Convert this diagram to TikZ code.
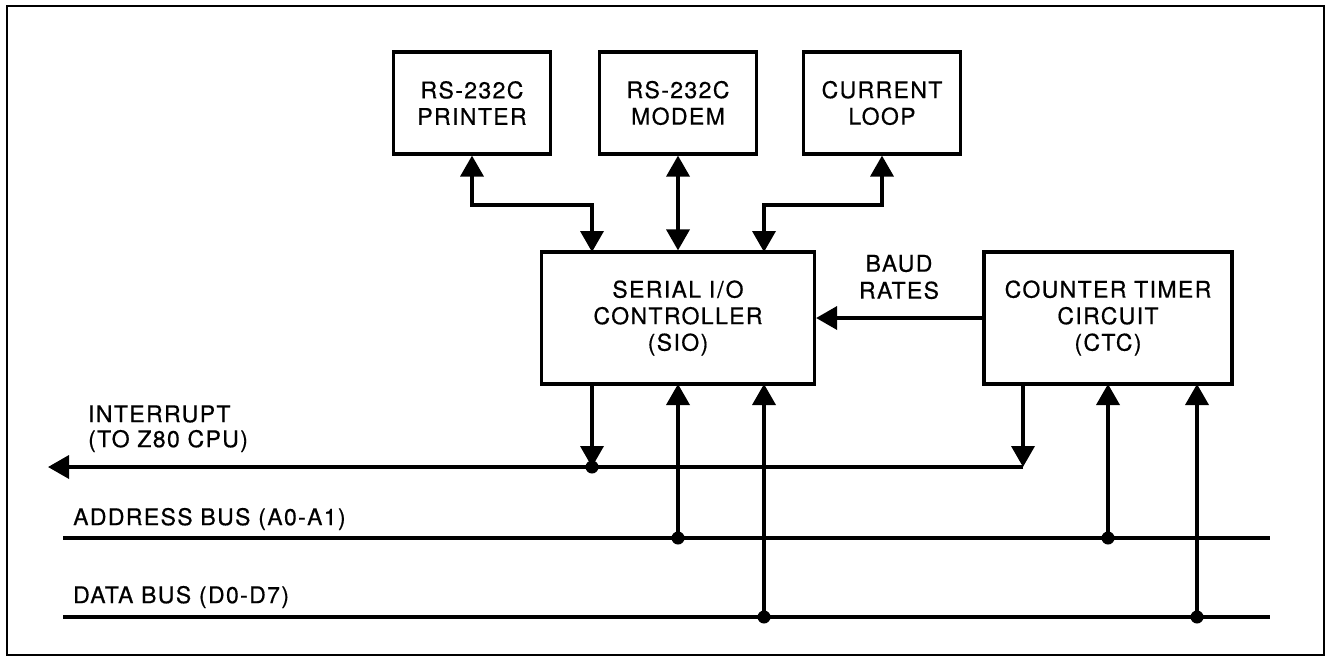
\documentclass[tikz,border=0pt]{standalone}
\usepackage{fontspec}
\setmainfont{TeX Gyre Heros}[LetterSpace=6,FakeBold=0.6]
\usetikzlibrary{arrows.meta}
\tikzset{
  blk/.style={draw, line width=3.2pt, align=center, inner sep=0pt,
    font=\fontsize{23}{26.5}\selectfont},
  lbl/.style={inner sep=0pt, font=\fontsize{23}{27}\selectfont},
  wire/.style={line width=3.6pt},
  bus/.style={line width=4pt},
  tip/.style={-{Triangle[width=23pt,length=21pt]}},
  bitip/.style={{Triangle[width=23pt,length=21pt]}-{Triangle[width=23pt,length=21pt]}},
  dot/.style={circle, fill, inner sep=0pt, minimum size=13pt}
}
\begin{document}
\begin{tikzpicture}[x=1pt,y=-1pt]
\useasboundingbox (0,0) rectangle (1330,658);
\draw[line width=2.5pt] (7,6) rectangle (1324,655);

% boxes
\node[blk, minimum width=157pt, minimum height=102pt] (prn) at (472,103) {RS-232C\\PRINTER};
\node[blk, minimum width=157pt, minimum height=102pt] (mdm) at (678,103) {RS-232C\\MODEM};
\node[blk, minimum width=157pt, minimum height=102pt] (cl) at (882,103) {CURRENT\\LOOP};
\node[blk, minimum width=273pt, minimum height=132pt] (sio) at (678,318) {SERIAL I\kern2pt/\kern2pt O\\CONTROLLER\\(SIO)};
\node[blk, minimum width=248pt, minimum height=132pt] (ctc) at (1108,318) {COUNTER TIMER\\CIRCUIT\\(CTC)};

% anchor coordinates
\coordinate (s1) at (592,252);
\coordinate (s3) at (764,252);
\coordinate (j1) at (472,205);
\coordinate (j3) at (882,205);
\coordinate (b1) at (592,384);
\coordinate (b2) at (678,384);
\coordinate (b3) at (764,384);
\coordinate (c1) at (1023,384);
\coordinate (c2) at (1108,384);
\coordinate (c3) at (1197,384);
\coordinate (i1) at (592,467);
\coordinate (ic) at (1023,467);
\coordinate (iend) at (48,467);
\coordinate (a1) at (678,538);
\coordinate (a2) at (1108,538);
\coordinate (d1) at (764,617);
\coordinate (d2) at (1197,617);
\coordinate (aL) at (63,538);
\coordinate (aR) at (1270,538);
\coordinate (dL) at (63,617);
\coordinate (dR) at (1270,617);

% top connectors
\draw[wire, bitip] (prn.south) -- (j1) -| (s1);
\draw[wire, bitip] (mdm.south) -- (sio.north);
\draw[wire, bitip] (cl.south) -- (j3) -| (s3);

% baud rates
\draw[wire, tip] (ctc.west) -- (sio.east);
\node[lbl, align=center] (baud) at (899,277) {BAUD\\RATES};

% buses
\draw[bus] (aL) -- (aR);
\draw[bus] (dL) -- (dR);
\draw[wire, tip] (ic) -- (iend);

% vertical links
\draw[wire, tip] (b1) -- (i1);
\draw[wire, tip] (c1) -- (ic);
\draw[wire, tip] (a1) -- (b2);
\draw[wire, tip] (d1) -- (b3);
\draw[wire, tip] (a2) -- (c2);
\draw[wire, tip] (d2) -- (c3);

\node[dot] (n1) at (i1) {};
\node[dot] (n2) at (a1) {};
\node[dot] (n3) at (d1) {};
\node[dot] (n4) at (a2) {};
\node[dot] (n5) at (d2) {};

% labels
\node[lbl, anchor=west] (int1) at (88,414) {INTERRUPT};
\node[lbl, anchor=west] (int2) at (88,441) {(TO Z80 CPU)};
\node[lbl, anchor=west] (abl) at (73,519) {ADDRESS BUS (A0-A1)};
\node[lbl, anchor=west] (dbl) at (73,597) {DATA BUS (D0-D7)};
\end{tikzpicture}
\end{document}
